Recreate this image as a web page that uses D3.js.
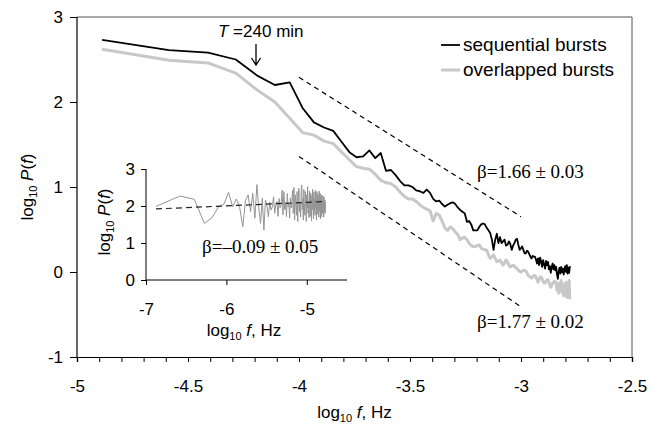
<!DOCTYPE html>
<html><head><meta charset="utf-8">
<script src="https://cdn.jsdelivr.net/npm/d3@7"></script>
<style>body{margin:0;background:#fff}</style>
</head><body><svg id="c" width="660" height="428" font-family="Liberation Sans, Arial, sans-serif"></svg>
<script>
// ---- data ----
const mainLogF1 = -4.887;   // log10 of fundamental frequency (main spectra)
const insetLogF1 = -6.876;  // log10 of fundamental frequency (inset spectrum)
const sequential = [
 2.73,2.61,2.58,2.50,2.31,2.20,2.23,1.93,1.76,1.70,
 1.66,1.53,1.41,1.35,1.36,1.43,1.34,1.40,1.19,1.20,
 1.14,1.07,1.02,1.02,1.00,0.96,0.95,0.93,0.97,0.93,
 0.86,0.83,0.84,0.80,0.77,0.79,0.81,0.82,0.80,0.76,
 0.73,0.71,0.69,0.59,0.60,0.56,0.49,0.49,0.49,0.53,
 0.56,0.57,0.56,0.52,0.49,0.46,0.38,0.26,0.38,0.45,
 0.34,0.41,0.34,0.36,0.38,0.31,0.32,0.36,0.33,0.26,
 0.31,0.34,0.38,0.39,0.32,0.26,0.28,0.30,0.26,0.22,
 0.22,0.25,0.24,0.21,0.18,0.16,0.19,0.18,0.18,0.15,
 0.10,0.16,0.08,0.17,0.12,0.06,0.14,0.09,0.04,0.13,
 0.08,0.12,0.03,0.07,-0.01,0.06,0.10,0.03,0.08,0.02,
 0.06,-0.03,-0.08,0.01,0.05,-0.02,0.06,0.00,0.04,-0.03,
 0.03,0.07,0.00,0.08,-0.02,0.05,-0.01,0.07];
const overlapped = [
 2.62,2.49,2.46,2.34,2.14,2.00,1.81,1.64,1.61,1.54,
 1.51,1.41,1.32,1.24,1.22,1.21,1.15,1.08,1.05,1.04,
 1.00,0.94,0.89,0.86,0.86,0.83,0.79,0.76,0.74,0.72,
 0.60,0.69,0.67,0.60,0.52,0.49,0.53,0.51,0.47,0.44,
 0.38,0.40,0.41,0.38,0.34,0.31,0.30,0.30,0.31,0.32,
 0.28,0.27,0.26,0.26,0.20,0.16,0.18,0.20,0.16,0.12,
 0.13,0.14,0.11,0.08,0.11,0.14,0.12,0.08,0.06,0.07,
 0.08,0.07,0.05,0.04,0.02,0.01,0.00,0.01,0.02,0.02,
 0.01,-0.01,-0.04,-0.05,-0.06,-0.07,-0.06,-0.04,-0.04,-0.06,
 -0.09,-0.12,-0.09,-0.06,-0.06,-0.08,-0.11,-0.13,-0.13,-0.11,
 -0.09,-0.09,-0.12,-0.15,-0.18,-0.16,-0.13,-0.12,-0.11,-0.13,
 -0.12,-0.22,-0.15,-0.25,-0.13,-0.20,-0.10,-0.24,-0.16,-0.28,
 -0.14,-0.22,-0.12,-0.30,-0.18,-0.26,-0.10,-0.32];
const insetSeries = [
 1.99,2.27,2.18,1.53,1.69,1.98,2.05,2.37,1.98,2.19,1.96,1.44,
 2.15,2.30,1.85,2.34,1.67,2.58,1.95,1.53,2.21,1.35,2.16,2.00,
 1.71,2.10,1.89,1.98,2.25,1.80,2.05,2.12,1.72,2.20,1.95,2.02,
 2.43,1.76,2.39,1.90,2.10,1.71,2.34,1.98,2.05,1.67,2.22,1.95,2.08,2.43,
 1.80,2.50,1.62,2.30,2.05,1.75,2.39,1.58,2.20,2.48,1.85,2.10,1.70,2.35,
 2.57,1.90,2.20,1.62,2.45,2.00,1.75,2.39,2.15,1.58,2.30,1.95,2.52,1.80,2.10,1.68,
 2.40,2.00,1.72,2.35,2.12,1.60,2.28,1.90,2.45,2.05,1.65,2.38,1.85,2.20,1.75,2.42,
 1.95,2.15,1.62,2.39,2.08,1.78,2.33,1.92,2.25,1.70,2.40,2.00,1.85,2.35,1.65,2.20,
 1.90,2.30,1.71,2.16,2.05,1.80,2.28,1.95,2.10,1.70,2.25,2.00,1.85,2.16,1.80,2.10];
// fits: [x1,y1,x2,y2]
const fitSeq = [-4.0, 2.29, -3.0, 0.65];
const fitOvl = [-4.0, 1.36, -3.0, -0.41];
const fitInset = [-6.876, 1.92, -4.769, 2.12];
const mainXTicks = [-5,-4.5,-4,-3.5,-3,-2.5];
const mainYTicks = [-1,0,1,2,3];
const insetXTicks = [-7,-6,-5];
const insetYTicks = [0,1,2,3];
const legendLabels = ["sequential bursts","overlapped bursts"];
const colors = {seq:"#000", ovl:"#c8c8c8", inset:"#959595"};

// ---- chart ----
const svg = d3.select("#c");
const x = d3.scaleLinear().domain([-5,-2.5]).range([77,632]);
const y = d3.scaleLinear().domain([-1,3]).range([357,17]);
const xi = d3.scaleLinear().domain([-7,-4.5]).range([146,347]);
const yi = d3.scaleLinear().domain([0,3]).range([280,169]);

const toPts = (arr, f1) => arr.map((v,i)=>({lf: f1 + Math.log10(i+1), v}));
const sans = "Liberation Sans, Arial, sans-serif";
const serif = "Liberation Serif, Times New Roman, serif";

// frame
svg.append("path").attr("d",`M${x(-5)},${y(3)}H${x(-2.5)}V${y(-1)}`).attr("fill","none").attr("stroke","#555").attr("stroke-width",1);

// axes
const xMinor = d3.range(-50,-24).map(d=>d/10);
const gx = svg.append("g").attr("transform",`translate(0,${y(-1)})`)
  .call(d3.axisBottom(x).tickValues(xMinor).tickSize(5).tickFormat(""));
const gxl = svg.append("g").attr("transform",`translate(0,${y(-1)})`)
  .call(d3.axisBottom(x).tickValues(mainXTicks).tickSize(5).tickPadding(18).tickFormat(d=>d));
const gy = svg.append("g").attr("transform",`translate(${x(-5)},0)`)
  .call(d3.axisLeft(y).tickValues(mainYTicks).tickSize(7).tickPadding(7).tickFormat(d=>d));
[gx,gxl,gy].forEach(g=>{g.select(".domain").attr("stroke","#000").attr("stroke-width",1.2);
  g.selectAll(".tick line").attr("stroke","#000");
  g.selectAll("text").style("font-size","17px").attr("fill","#000").style("font-family",sans);});
gy.select(".domain").attr("d",`M0,${y(3)}V${y(-1)}`);

// axis labels
function logLabel(g, sym, italicSym, suffix){
  g.style("font-family",sans);
  g.append("tspan").text("log");
  g.append("tspan").text("10").style("font-size","11px").attr("dy",4);
  g.append("tspan").text(" ").attr("dy",-4);
  g.append("tspan").text(sym).attr("font-style","italic");
  if (italicSym){ g.append("tspan").text("("); g.append("tspan").text(italicSym).attr("font-style","italic"); g.append("tspan").text(")"); }
  if (suffix) g.append("tspan").text(suffix);
}
logLabel(svg.append("text").attr("x",354.5).attr("y",418).attr("text-anchor","middle").style("font-size","17px"), "f", null, ", Hz");
logLabel(svg.append("text").attr("transform","translate(33,187) rotate(-90)").attr("text-anchor","middle").style("font-size","17px"), "P", "f", null);

// dashed fits
[fitSeq, fitOvl].forEach(f=>svg.append("line").attr("x1",x(f[0])).attr("y1",y(f[1])).attr("x2",x(f[2])).attr("y2",y(f[3]))
  .attr("stroke","#000").attr("stroke-width",1.2).attr("stroke-dasharray","5,4"));

// lines
const line = d3.line().x(d=>x(d.lf)).y(d=>y(d.v));
svg.append("path").datum(toPts(overlapped, mainLogF1)).attr("d",line).attr("fill","none").attr("stroke",colors.ovl).attr("stroke-width",3).attr("stroke-linejoin","round");
svg.append("path").datum(toPts(sequential, mainLogF1)).attr("d",line).attr("fill","none").attr("stroke",colors.seq).attr("stroke-width",1.8).attr("stroke-linejoin","round");

// beta labels
svg.append("text").attr("x",477).attr("y",178).style("font-family",serif).style("font-size","19px").text("β=1.66 ± 0.03");
svg.append("text").attr("x",477).attr("y",328).style("font-family",serif).style("font-size","19px").text("β=1.77 ± 0.02");

// legend
const leg = [[legendLabels[0],colors.seq,1.8,45],[legendLabels[1],colors.ovl,3,70]];
leg.forEach(([t,c,w,yy])=>{
  svg.append("line").attr("x1",441).attr("x2",460).attr("y1",yy).attr("y2",yy).attr("stroke",c).attr("stroke-width",w);
  svg.append("text").attr("x",463).attr("y",yy+6).style("font-family",sans).style("font-size","19px").text(t);
});

// annotation
const ann = svg.append("text").attr("x",218).attr("y",37).style("font-family",sans).style("font-size","17px");
ann.append("tspan").text("T").attr("font-style","italic");
ann.append("tspan").text(" =240 min");
svg.append("path").attr("d","M256,44V65M251.5,58L256,65L260.5,58").attr("fill","none").attr("stroke","#000").attr("stroke-width",1.3);

// inset
const gix = svg.append("g").attr("transform",`translate(0,${yi(0)})`)
  .call(d3.axisBottom(xi).tickValues(insetXTicks).tickSize(5).tickPadding(18).tickFormat(d=>d));
const giy = svg.append("g").attr("transform",`translate(${xi(-7)},0)`)
  .call(d3.axisLeft(yi).tickValues(insetYTicks).tickSize(5).tickPadding(6).tickFormat(d=>d));
[gix,giy].forEach(g=>{g.select(".domain").attr("stroke","#000").attr("stroke-width",1);
  g.selectAll("text").style("font-size","17px").attr("fill","#000").style("font-family",sans);});
gix.select(".domain").attr("d",`M${xi(-7)},0H${xi(-4.5)}`);
giy.select(".domain").attr("d",`M0,${yi(3)}V${yi(0)}`);
logLabel(svg.append("text").attr("x",244).attr("y",336).attr("text-anchor","middle").style("font-size","17px"), "f", null, ", Hz");
logLabel(svg.append("text").attr("transform","translate(110,222) rotate(-90)").attr("text-anchor","middle").style("font-size","17px"), "P", "f", null);

const linei = d3.line().x(d=>xi(d.lf)).y(d=>yi(d.v));
svg.append("path").datum(toPts(insetSeries, insetLogF1)).attr("d",linei).attr("fill","none").attr("stroke",colors.inset).attr("stroke-width",1);
svg.append("line").attr("x1",xi(fitInset[0])).attr("y1",yi(fitInset[1])).attr("x2",xi(fitInset[2])).attr("y2",yi(fitInset[3]))
  .attr("stroke","#222").attr("stroke-width",1.2).attr("stroke-dasharray","6,4");
svg.append("text").attr("x",202).attr("y",253).style("font-family",serif).style("font-size","19px").text("β=–0.09 ± 0.05");
</script></body></html>
